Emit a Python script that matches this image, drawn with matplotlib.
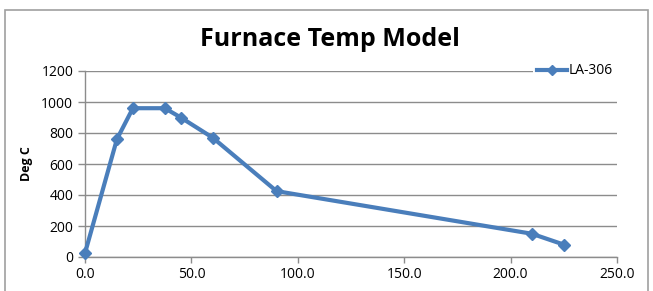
import numpy as np
import matplotlib.pyplot as plt
from matplotlib.patches import Rectangle
from matplotlib.ticker import FormatStrFormatter

# furnace profile
time_min = [0, 15, 22.5, 37.5, 45, 60, 90, 210, 225]
temp_c = [25, 760, 960, 960, 900, 770, 425, 150, 80]
series_name = 'LA-306'
x_ticks = [0, 50, 100, 150, 200, 250]
y_ticks = [0, 200, 400, 600, 800, 1000, 1200]

plt.rcParams['font.family'] = ['Open Sans', 'DejaVu Sans']
blue = '#4a7ebb'
grey = '#8c8c8c'

fig = plt.figure(figsize=(6.53, 2.91), dpi=100)
ax = fig.add_axes([85/653, 1-257/291, (617-85)/653, (257-71)/291])

# outer chart frame
fig.patches.append(Rectangle((5/653, -0.1), 643/653, 1.1-10/291, transform=fig.transFigure,
                             fill=False, edgecolor='#a0a0a0', lw=1.2))

ax.plot(time_min, temp_c, '-D', color=blue, lw=3, markersize=6.5, label=series_name,
        clip_on=False, zorder=3)

ax.set_xlim(0, 250)
ax.set_ylim(0, 1200)
ax.set_xticks(x_ticks)
ax.set_yticks(y_ticks)
ax.xaxis.set_major_formatter(FormatStrFormatter('%.1f'))
ax.tick_params(axis='both', labelsize=10, color=grey, length=4, width=1)
ax.tick_params(axis='y', length=5)
ax.grid(axis='y', color=grey, lw=1)
ax.set_axisbelow(True)
for s in ['top', 'right']:
    ax.spines[s].set_visible(False)
for s in ['left', 'bottom']:
    ax.spines[s].set_color(grey)
    ax.spines[s].set_linewidth(1)

ax.set_ylabel('Deg C', fontsize=9, fontweight='bold', labelpad=6)
fig.text(330/653, 1-40/291, 'Furnace Temp Model', ha='center', va='center',
         fontsize=18, fontweight='bold')

leg = ax.legend(loc='center right', bbox_to_anchor=(1.0, 1.0), frameon=True,
                fontsize=10, handlelength=2.2, handletextpad=0.1, borderpad=0.3,
                borderaxespad=0, markerscale=0.85)
leg.get_frame().set_facecolor('white')
leg.get_frame().set_edgecolor('none')
leg.get_frame().set_alpha(1)

fig.savefig('out.png', dpi=100)
